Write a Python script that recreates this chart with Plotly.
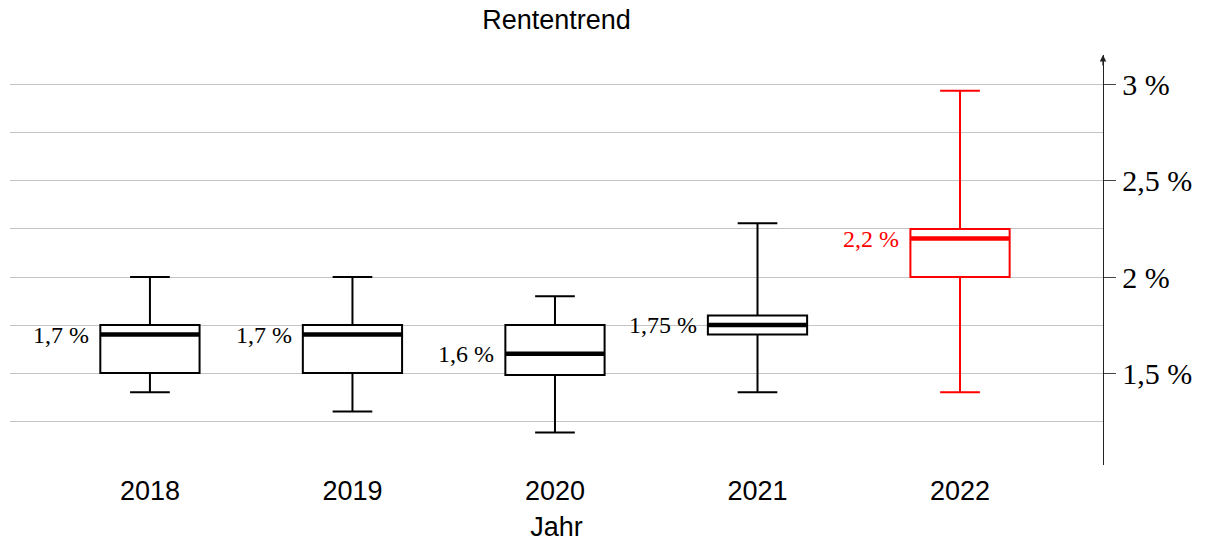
import plotly.graph_objects as go

years = ["2018", "2019", "2020", "2021", "2022"]
lower = [1.4, 1.3, 1.19, 1.4, 1.4]
q1 = [1.5, 1.5, 1.49, 1.7, 2.0]
median = [1.7, 1.7, 1.6, 1.75, 2.2]
q3 = [1.75, 1.75, 1.75, 1.8, 2.25]
upper = [2.0, 2.0, 1.9, 2.28, 2.97]
colors = ["black", "black", "black", "black", "#ff0000"]
median_labels = ["1,7 %", "1,7 %", "1,6 %", "1,75 %", "2,2 %"]

y_tick_vals = [1.5, 2.0, 2.5, 3.0]
y_tick_text = ["1,5 %", "2 %", "2,5 %", "3 %"]
grid_vals = [1.25, 1.5, 1.75, 2.0, 2.25, 2.5, 2.75, 3.0]

BOX_W = 0.49

fig = go.Figure()
for i, yr in enumerate(years):
    fig.add_trace(go.Box(
        x=[i], q1=[q1[i]], median=[median[i]], q3=[q3[i]],
        lowerfence=[lower[i]], upperfence=[upper[i]],
        width=BOX_W, whiskerwidth=0.4,
        line=dict(color=colors[i], width=2),
        fillcolor="white", boxpoints=False, hoverinfo="skip",
        showlegend=False, name=yr,
    ))
    fig.add_shape(type="line", xref="x", yref="y",
                  x0=i - BOX_W / 2, x1=i + BOX_W / 2,
                  y0=median[i], y1=median[i],
                  line=dict(color=colors[i], width=4.5), layer="above")
    fig.add_annotation(x=i - BOX_W / 2, y=median[i], xref="x", yref="y",
                       text=median_labels[i], showarrow=False,
                       xanchor="right", yanchor="middle", xshift=-9,
                       font=dict(family="Liberation Serif", size=24, color=colors[i]))

# arrow on top of y axis
fig.add_annotation(x=1, y=1, xref="paper", yref="paper", ax=0, ay=12,
                   axref="pixel", ayref="pixel", text="", showarrow=True,
                   arrowhead=2, arrowsize=1, arrowwidth=1.3, arrowcolor="#222")

fig.update_layout(
    width=1207, height=542,
    margin=dict(l=10, r=104, t=55, b=77, autoexpand=False),
    paper_bgcolor="white", plot_bgcolor="white",
    title=dict(text="Rententrend", x=0.5, xref="paper", xanchor="center",
               y=1 - 20 / 542, yanchor="middle", automargin=False,
               font=dict(family="Liberation Sans", size=27, color="black")),
    xaxis=dict(range=[-0.691, 4.706], tickvals=list(range(len(years))),
               ticktext=years, showgrid=False, zeroline=False, showline=False,
               ticks="", ticklabelstandoff=7, automargin=True,
               tickfont=dict(family="Liberation Sans", size=27, color="black"),
               title=dict(text="Jahr", standoff=12,
                          font=dict(family="Liberation Sans", size=27, color="black"))),
    yaxis=dict(side="right", range=[1.021, 3.156], tickvals=y_tick_vals,
               ticktext=y_tick_text, ticks="outside", ticklen=12, tickwidth=1,
               tickcolor="#444", showline=True, linecolor="#222", linewidth=1.3,
               showgrid=True, gridcolor="#c4c4c4", gridwidth=1, zeroline=False,
               automargin=False,
               tickfont=dict(family="Liberation Serif", size=30, color="black"),
               minor=dict(tickvals=grid_vals, showgrid=True, gridcolor="#c4c4c4",
                          gridwidth=1, ticks="")),
)

fig.write_html("out.html", config={"displayModeBar": False},
               post_script="document.body.style.margin='0';document.body.style.overflow='hidden';")
